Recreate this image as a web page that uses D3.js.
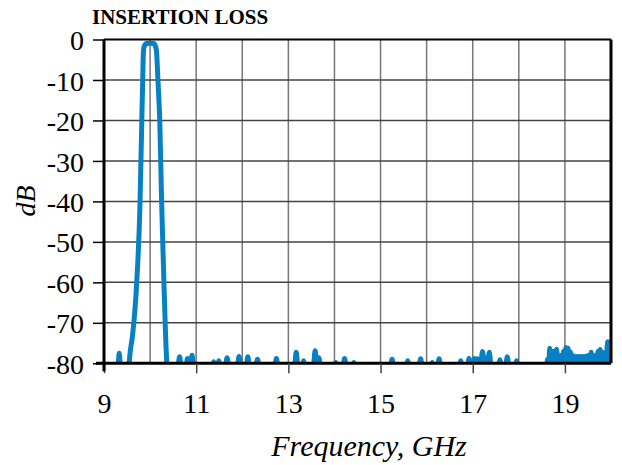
<!DOCTYPE html>
<html><head><meta charset="utf-8">
<script src="https://cdn.jsdelivr.net/npm/d3@7"></script>
<style>body{margin:0;background:#fff}svg{display:block}</style>
</head><body>
<script>
const title = "INSERTION LOSS";
const xLabel = "Frequency, GHz";
const yLabel = "dB";
const xTicks = [9, 11, 13, 15, 17, 19];
const yTicks = [0, -10, -20, -30, -40, -50, -60, -70, -80];
const xGrid = [10, 11, 12, 13, 14, 15, 16, 17, 18, 19];
const freq = [9.00, 9.30, 9.33, 9.36, 9.53, 9.57, 9.62, 9.71, 9.78, 9.82, 9.84, 9.855, 9.87, 9.92, 10.00, 10.08, 10.12, 10.14, 10.17, 10.21, 10.25, 10.30, 10.35, 10.37,
  10.60, 10.64, 10.68, 10.78, 10.81, 10.85, 10.88, 10.91, 10.95, 11.34, 11.38, 11.42, 11.46, 11.49, 11.53, 11.63, 11.67, 11.71, 11.89, 11.93, 11.97, 12.08, 12.12, 12.16, 12.29, 12.33, 12.37,
  12.70, 12.74, 12.78, 13.13, 13.17, 13.21, 13.30, 13.33, 13.36, 13.54, 13.58, 13.62, 13.66, 13.70, 14.00, 14.03, 14.06, 14.18, 14.22, 14.26, 14.39, 14.42, 14.45,
  15.21, 15.25, 15.29, 15.55, 15.59, 15.63, 15.83, 15.87, 15.91, 16.09, 16.12, 16.15, 16.23, 16.27, 16.31, 16.70, 16.74, 16.78, 16.88, 16.92, 16.96, 17.00, 17.04, 17.07, 17.10, 17.14,
  17.17, 17.21, 17.25, 17.29, 17.33, 17.36, 17.40, 17.55, 17.59, 17.63, 17.71, 17.75, 17.79, 17.92, 17.95, 17.98,
  18.600, 18.625, 18.650, 18.670, 18.695, 18.720, 18.745, 18.770, 18.795, 18.820, 18.845, 18.870, 18.895, 18.920, 18.945, 18.970, 18.995,
  19.020, 19.045, 19.070, 19.095, 19.120, 19.145, 19.170, 19.195, 19.220, 19.245, 19.270, 19.295, 19.320, 19.345, 19.370, 19.395, 19.420, 19.445,
  19.470, 19.495, 19.520, 19.545, 19.570, 19.595, 19.620, 19.645, 19.670, 19.695, 19.720, 19.745, 19.765, 19.790, 19.815, 19.840, 19.865, 19.890,
  19.915, 19.930, 19.955, 19.975, 20.000];
const loss = [-81, -81, -77.5, -81, -81, -77, -73, -60, -41, -20, -10, -3, -1.8, -1.0, -0.9, -1.0, -1.8, -3, -10, -20, -40, -60, -77, -81,
  -81, -78.4, -81, -81, -78.8, -81, -81, -78.0, -81, -81, -79.6, -81, -81, -79.4, -81, -81, -78.6, -81, -81, -78.3, -81, -81, -78.4, -81, -81, -79.0, -81,
  -81, -78.8, -81, -81, -77.3, -81, -81, -79.4, -81, -81, -76.9, -80, -78.6, -81, -81, -79.8, -81, -81, -78.8, -81, -81, -79.8, -81,
  -81, -79.0, -81, -81, -79.4, -81, -81, -78.9, -81, -81, -79.8, -81, -81, -78.9, -81, -81, -79.4, -81, -81, -78.8, -81, -81, -78.8, -80, -78.9, -81,
  -81, -77.1, -80, -81, -79, -77.3, -81, -81, -79.1, -81, -81, -78.4, -81, -81, -79.4, -81,
  -81, -79, -80.5, -76.3, -80.5, -77, -80.5, -77, -80.5, -76.5, -80.5, -78.6, -80.5, -78, -80.5, -77, -80.5,
  -76.1, -80.5, -76.3, -80.5, -77.2, -80.5, -78.1, -80.5, -78.3, -80.5, -78.3, -80.5, -78.3, -80.5, -78.3, -80.5, -78.3, -80.5,
  -78.2, -80.5, -78, -80.5, -77.3, -80.5, -78.2, -80.5, -78, -80.5, -77, -80.5, -76.6, -80.5, -77.3, -80.5, -77.5, -80.5,
  -76, -74.7, -80.5, -77, -78];

const W = 622, H = 465;
const m = {left: 104, top: 39.5, right: 11, bottom: 101.7};
const iw = W - m.left - m.right, ih = H - m.top - m.bottom;
const svg = d3.select("body").append("svg").attr("width", W).attr("height", H);
const x = d3.scaleLinear().domain([9, 20]).range([m.left, m.left + iw]);
const y = d3.scaleLinear().domain([-80, 0]).range([m.top + ih, m.top]);
const serif = "'Liberation Serif', 'Times New Roman', serif";

// grid
svg.append("g").selectAll("line").data(xGrid).join("line")
  .attr("x1", d => x(d)).attr("x2", d => x(d)).attr("y1", y(0)).attr("y2", y(-80))
  .attr("stroke", "#777").attr("stroke-width", 1.5);
svg.append("g").selectAll("line").data(yTicks.filter(d => d < 0 && d > -80)).join("line")
  .attr("x1", x(9)).attr("x2", x(20)).attr("y1", d => y(d)).attr("y2", d => y(d))
  .attr("stroke", "#444").attr("stroke-width", 1.5);

// curve
svg.append("clipPath").attr("id", "clip").append("rect")
  .attr("x", x(9)).attr("y", y(0) - 10).attr("width", iw).attr("height", ih + 10);
const pts = freq.map((f, i) => [f, loss[i]]);
svg.append("path").datum(pts)
  .attr("clip-path", "url(#clip)")
  .attr("fill", "none").attr("stroke", "#0880c4").attr("stroke-width", 5)
  .attr("stroke-linejoin", "round").attr("stroke-linecap", "round")
  .attr("d", d3.line().x(d => x(d[0])).y(d => y(d[1])).curve(d3.curveMonotoneX));

// frame
svg.append("line").attr("x1", x(9)).attr("x2", x(20)).attr("y1", y(0)).attr("y2", y(0)).attr("stroke", "#000").attr("stroke-width", 2);
svg.append("line").attr("x1", x(20)).attr("x2", x(20)).attr("y1", y(0)).attr("y2", y(-80)).attr("stroke", "#000").attr("stroke-width", 3);

// axes
const fmt = d => String(d);
const xAxis = d3.axisBottom(x).tickValues(xTicks).tickSize(10).tickPadding(20).tickFormat(fmt);
const gx = svg.append("g").attr("transform", `translate(0,${y(-80)})`).call(xAxis);
gx.select(".domain").attr("stroke", "#000").attr("stroke-width", 3).attr("d", `M${x(9)-8},0H${x(20)}`);
gx.selectAll(".tick line").attr("stroke", "#444").attr("stroke-width", 1.5);
gx.selectAll("text").attr("font-family", serif).attr("font-size", 28).attr("fill", "#000");

const yAxis = d3.axisLeft(y).tickValues(yTicks).tickSize(11).tickPadding(9).tickFormat(fmt);
const gy = svg.append("g").attr("transform", `translate(${x(9)},0)`).call(yAxis);
gy.select(".domain").attr("stroke", "#000").attr("stroke-width", 3).attr("d", `M0,${y(0)}V${y(-80)+8}`);
gy.selectAll(".tick line").attr("stroke", "#000").attr("stroke-width", 1.5);
gy.selectAll("text").attr("font-family", serif).attr("font-size", 28).attr("fill", "#000").attr("dy", "0.36em");

// titles
svg.append("text").attr("x", 92).attr("y", 24).attr("font-family", serif).attr("font-weight", "bold")
  .attr("font-size", 21).text(title);
svg.append("text").attr("x", 369).attr("y", 456).attr("text-anchor", "middle")
  .attr("font-family", serif).attr("font-style", "italic").attr("font-size", 30).text(xLabel);
svg.append("text").attr("transform", "translate(35,201) rotate(-90)").attr("text-anchor", "middle")
  .attr("font-family", serif).attr("font-style", "italic").attr("font-size", 28).text(yLabel);
</script>
</body></html>
